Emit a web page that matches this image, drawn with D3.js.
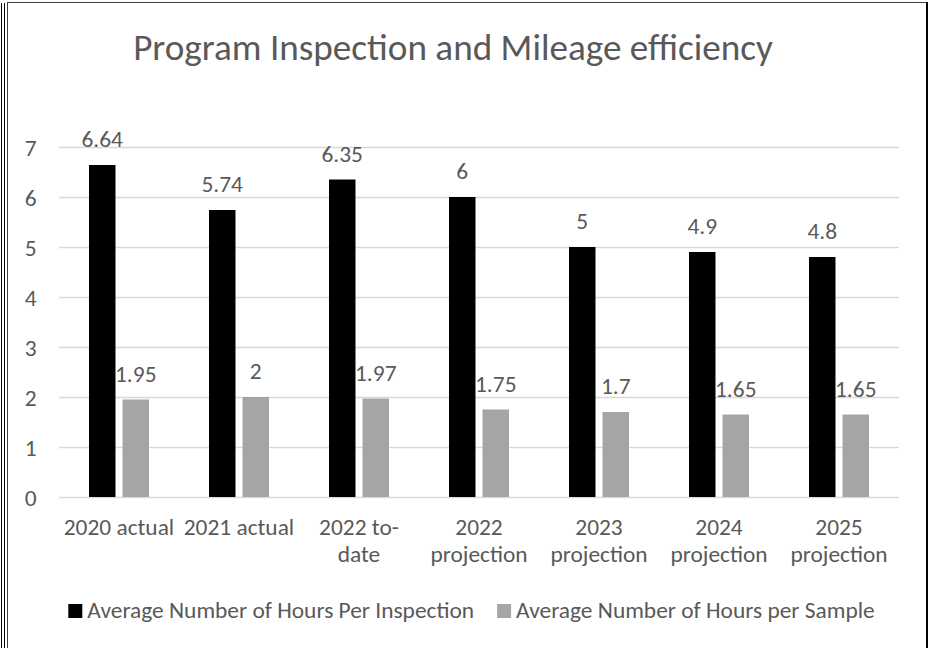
<!DOCTYPE html>
<html>
<head>
<meta charset="utf-8">
<script src="https://cdn.jsdelivr.net/npm/d3@7"></script>
<style>
  html, body { margin: 0; padding: 0; background: #fff; }
  svg { display: block; }
  text { font-family: Carlito, Lato, "Open Sans", sans-serif; fill: #595959; }
</style>
</head>
<body>
<svg id="chart" width="952" height="648"></svg>
<script>
const categories = [
  ["2020 actual"],
  ["2021 actual"],
  ["2022 to-", "date"],
  ["2022", "projection"],
  ["2023", "projection"],
  ["2024", "projection"],
  ["2025", "projection"]
];
const seriesNames = ["Average Number of Hours Per Inspection", "Average Number of Hours per Sample"];
const hoursPerInspection = [6.64, 5.74, 6.35, 6, 5, 4.9, 4.8];
const hoursPerSample = [1.95, 2, 1.97, 1.75, 1.7, 1.65, 1.65];
const yTicks = [0, 1, 2, 3, 4, 5, 6, 7];
const titleText = "Program Inspection and Mileage efficiency";

const colors = ["#000000", "#a5a5a5"];
const seriesValues = [hoursPerInspection, hoursPerSample];
const catKeys = categories.map(c => c.join(" "));

const svg = d3.select("#chart");

// frame
svg.append("line").attr("x1", 1.5).attr("x2", 1.5).attr("y1", 3).attr("y2", 648).attr("stroke", "#000").attr("stroke-width", 1);
svg.append("line").attr("x1", 4.5).attr("x2", 4.5).attr("y1", 3).attr("y2", 648).attr("stroke", "#000").attr("stroke-width", 1);
svg.append("line").attr("x1", 7.5).attr("x2", 7.5).attr("y1", 2).attr("y2", 648).attr("stroke", "#404040").attr("stroke-width", 1);
svg.append("line").attr("x1", 7).attr("x2", 928).attr("y1", 2.5).attr("y2", 2.5).attr("stroke", "#404040").attr("stroke-width", 1);
svg.append("line").attr("x1", 927).attr("x2", 927).attr("y1", 2).attr("y2", 648).attr("stroke", "#000").attr("stroke-width", 2);

const x0 = d3.scaleBand().domain(catKeys).range([59, 899]).padding(0);
const bw = x0.bandwidth();
const x1 = d3.scaleBand().domain([0, 1]).range([bw * 0.25, bw * 0.75]).paddingInner(0.21).paddingOuter(0);
const y = d3.scaleLinear().domain([0, 7]).range([497, 147]);

// fit helper: scale font-size so text width matches target
function fit(sel, baseSize, target) {
  sel.style("font-size", baseSize + "px");
  const w = sel.node().getComputedTextLength();
  const s = baseSize * target / w;
  sel.style("font-size", s.toFixed(2) + "px");
  return s;
}

// title
const title = svg.append("text").attr("x", 453).attr("y", 60).attr("text-anchor", "middle").text(titleText);
fit(title, 34, 640);

// measure small font size via legend item
const probe = svg.append("text").text(seriesNames[0]);
const small = fit(probe, 20, 387);
probe.remove();

// gridlines
const grid = svg.append("g");
grid.selectAll("line").data(yTicks).join("line")
  .attr("x1", 59).attr("x2", 899)
  .attr("y1", d => Math.round(y(d)) + 0.5).attr("y2", d => Math.round(y(d)) + 0.5)
  .attr("stroke", "#d9d9d9").attr("stroke-width", 1.3);

// y axis labels
const yAxis = d3.axisLeft(y).tickValues(yTicks).tickSize(0).tickPadding(0).tickFormat(d3.format("d"));
const yg = svg.append("g").attr("transform", "translate(36.5,0)").call(yAxis);
yg.select(".domain").remove();
yg.selectAll("text").style("font-size", small + "px").attr("fill", "#595959").attr("dy", "0.35em").style("font-family", null);

// bars
const groups = svg.append("g").selectAll("g").data(catKeys).join("g")
  .attr("transform", d => `translate(${x0(d)},0)`);
groups.selectAll("rect").data((d, i) => seriesValues.map((vals, s) => ({ s, v: vals[i] }))).join("rect")
  .attr("x", d => x1(d.s))
  .attr("width", x1.bandwidth())
  .attr("y", d => y(d.v))
  .attr("height", d => y(0) - y(d.v))
  .attr("fill", d => colors[d.s]);
groups.selectAll("text").data((d, i) => seriesValues.map((vals, s) => ({ s, v: vals[i] }))).join("text")
  .attr("x", d => x1(d.s) + x1.bandwidth() / 2)
  .attr("y", d => y(d.v) - 18)
  .attr("text-anchor", "middle")
  .style("font-size", small + "px")
  .text(d => String(d.v));

// category labels
const xl = svg.append("g").selectAll("text").data(categories).join("text")
  .attr("text-anchor", "middle")
  .attr("x", (d, i) => x0(catKeys[i]) + bw / 2)
  .attr("y", 535)
  .style("font-size", small + "px");
xl.selectAll("tspan").data(d => d).join("tspan")
  .attr("x", function () { return this.parentNode.getAttribute("x"); })
  .attr("dy", (d, i) => i === 0 ? 0 : 27)
  .text(d => d);

// legend
const legend = svg.append("g");
const items = legend.selectAll("g").data(seriesNames).join("g");
items.append("rect").attr("width", 14).attr("height", 14).attr("y", 604).attr("fill", (d, i) => colors[i]);
items.append("text").attr("x", 19).attr("y", 618).style("font-size", small + "px").text(d => d);
let widths = [];
items.each(function () { widths.push(19 + d3.select(this).select("text").node().getComputedTextLength()); });
const gap = 23;
const total = widths[0] + gap + widths[1];
let start = 471.5 - total / 2;
items.attr("transform", (d, i) => {
  const tx = i === 0 ? start : start + widths[0] + gap;
  return `translate(${tx},0)`;
});
</script>
</body>
</html>
